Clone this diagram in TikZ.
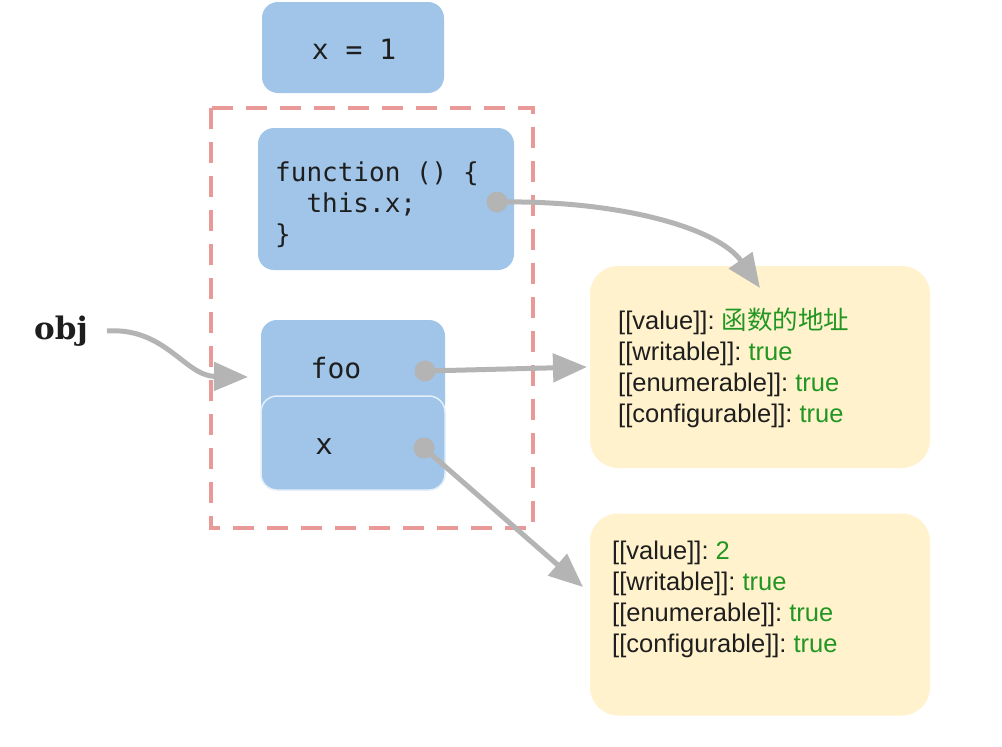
\documentclass[tikz,border=0pt]{standalone}
\usepackage{fontspec}
\setmainfont{Liberation Sans}
\setmonofont{DejaVu Sans Mono}
\newfontfamily\cjk{Noto Sans CJK SC}
\newfontfamily\objfont{DejaVu Serif}
\usetikzlibrary{arrows.meta}
\definecolor{boxblue}{RGB}{160,197,232}
\definecolor{boxyellow}{RGB}{255,242,204}
\definecolor{dashred}{RGB}{234,153,153}
\definecolor{arrowgrey}{RGB}{180,180,180}
\definecolor{valgreen}{RGB}{34,150,34}
\definecolor{txt}{RGB}{30,30,30}
\tikzset{
  bluebox/.style={fill=boxblue, rounded corners=16pt, draw=none, inner sep=0pt},
  yellowbox/.style={fill=boxyellow, rounded corners=28pt, draw=none, inner sep=0pt,
    minimum width=340pt, minimum height=202pt},
  monotext/.style={font=\ttfamily\fontsize{26}{31}\selectfont, text=txt, inner sep=0pt},
  proptext/.style={font=\frenchspacing\fontsize{25.5}{31}\selectfont, text=txt, inner sep=0pt, align=left, anchor=west},
  dotnode/.style={circle, fill=arrowgrey, minimum size=21pt, inner sep=0pt},
  conn/.style={draw=arrowgrey, line width=5pt, -{Triangle[length=34pt,width=28pt]}},
  groupbox/.style={draw=dashred, line width=4pt, dash pattern=on 21pt off 13pt}
}
\newcommand{\gv}[1]{\textcolor{valgreen}{#1}}
\begin{document}
\begin{tikzpicture}[x=1pt,y=-1pt]
\useasboundingbox (0,0) rectangle (1002,747);
\fill[white] (0,0) rectangle (1002,747);

% dashed group
\draw[groupbox] (211,108) rectangle (533,528);

% x = 1 box
\node[bluebox, minimum width=182pt, minimum height=91pt] (xone) at (353,47.5) {};
\node[monotext, font=\ttfamily\fontsize{28}{31}\selectfont] (xonelbl) at (354,49) {x = 1};

% function box
\node[bluebox, minimum width=256pt, minimum height=142pt] (fn) at (386,199) {};
\node[monotext, anchor=north west, align=left] (fnlbl) at (275,162)
  {function () \{\\\ \ this.x;\\\}};

% foo and x boxes
\node[bluebox, minimum width=184pt, minimum height=100pt] (foo) at (353,370) {};
\node[bluebox, minimum width=184pt, minimum height=94pt, draw={rgb,255:red,228;green,238;blue,250}, line width=1.5pt] (xbox) at (353,443) {};
\node[monotext, font=\ttfamily\fontsize{28}{31}\selectfont] (foolbl) at (336,368) {foo};
\node[monotext, font=\ttfamily\fontsize{29}{31}\selectfont] (xlbl) at (324,447) {x};

% yellow boxes
\node[yellowbox] (y1) at (760,367) {};
\node[proptext] (y1txt) at (618,367.5)
  {{[}[value]]: \gv{\cjk 函数的地址}\\{[}[writable]]: \gv{true}\\{[}[enumerable]]: \gv{true}\\{[}[configurable]]: \gv{true}};
\node[yellowbox] (y2) at (760,614.5) {};
\node[proptext] (y2txt) at (612,599.5)
  {{[}[value]]: \gv{2}\\{[}[writable]]: \gv{true}\\{[}[enumerable]]: \gv{true}\\{[}[configurable]]: \gv{true}};

% obj label
\node[font=\objfont\bfseries\fontsize{31}{36}\selectfont, text=txt, inner sep=0pt, anchor=base west] (obj) at (34,339) {obj};

% connector endpoints
\coordinate (objstart) at (107,331);
\coordinate (objtip) at (248,377);
\coordinate (t1) at (760,288);
\coordinate (t2) at (587,367);
\coordinate (t3) at (583,587);

% dots
\node[dotnode] (d1) at (497,202) {};
\node[dotnode] (d2) at (425,371) {};
\node[dotnode] (d3) at (424,448) {};

% connectors
\draw[conn] (objstart) .. controls (165,327) and (185,376) .. (objtip);
\draw[conn] (d1.center) .. controls (620,200) and (718,228) .. (t1);
\draw[conn] (d2.center) -- (t2);
\draw[conn] (d3.center) -- (t3);
\end{tikzpicture}
\end{document}
